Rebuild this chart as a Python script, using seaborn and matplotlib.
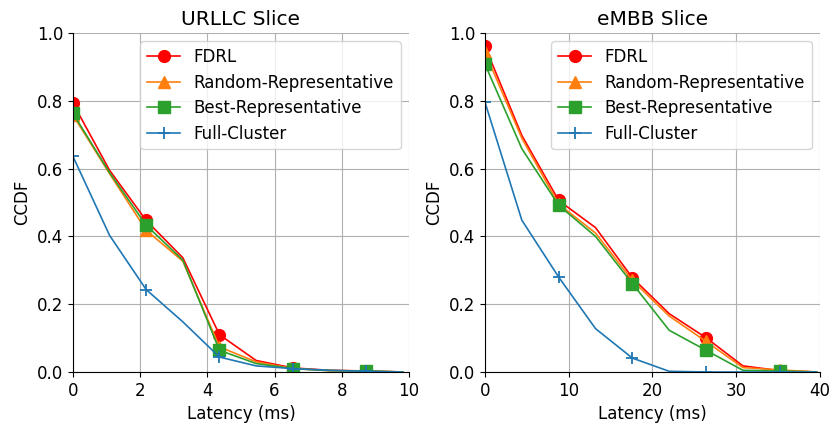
import matplotlib
matplotlib.use('Agg')
import matplotlib.pyplot as plt
import seaborn as sns

# URLLC slice (latency in ms)
urllc_latency = [0.0, 1.09, 2.18, 3.27, 4.36, 5.45, 6.54, 7.63, 8.72, 9.81]
urllc_fdrl = [0.793, 0.595, 0.447, 0.337, 0.110, 0.034, 0.012, 0.005, 0.003, 0.0]
urllc_random = [0.758, 0.585, 0.418, 0.327, 0.074, 0.030, 0.010, 0.004, 0.003, 0.0]
urllc_best = [0.763, 0.588, 0.433, 0.330, 0.064, 0.025, 0.010, 0.004, 0.003, 0.0]
urllc_full = [0.636, 0.403, 0.243, 0.148, 0.044, 0.018, 0.010, 0.005, 0.002, 0.0]

# eMBB slice
embb_latency = [0.0, 4.4, 8.8, 13.2, 17.6, 22.0, 26.4, 30.8, 35.2, 39.6]
embb_fdrl = [0.961, 0.698, 0.506, 0.426, 0.278, 0.172, 0.101, 0.018, 0.004, 0.0]
embb_random = [0.944, 0.690, 0.495, 0.410, 0.270, 0.165, 0.090, 0.013, 0.006, 0.0]
embb_best = [0.908, 0.659, 0.492, 0.400, 0.261, 0.123, 0.064, 0.005, 0.003, 0.0]
embb_full = [0.796, 0.448, 0.280, 0.128, 0.041, 0.002, 0.0, 0.0, 0.0, 0.0]

labels = ['FDRL', 'Random-Representative', 'Best-Representative', 'Full-Cluster']
colors = ['red', '#ff7f0e', '#2ca02c', '#1f77b4']
markers = ['o', '^', 's', '+']

fig = plt.figure(figsize=(8.31, 4.29), dpi=100)
ax1 = fig.add_axes([0.0878, 0.1329, 0.4043, 0.790])
ax2 = fig.add_axes([0.5836, 0.1329, 0.4031, 0.790])

panels = [
    (ax1, 'URLLC Slice', urllc_latency, [urllc_fdrl, urllc_random, urllc_best, urllc_full], 10),
    (ax2, 'eMBB Slice', embb_latency, [embb_fdrl, embb_random, embb_best, embb_full], 40),
]

for ax, title, xs, series, xmax in panels:
    for ys, lab, c, m in zip(series, labels, colors, markers):
        sns.lineplot(x=xs, y=ys, ax=ax, label=lab, color=c, marker=m,
                     markevery=2, markersize=9 if m == '+' else 8.5,
                     markeredgecolor=c, markeredgewidth=1.3 if m == '+' else 1,
                     linewidth=1.2, sort=False)
    ax.set_xlim(0, xmax)
    ax.set_ylim(0, 1.0)
    ax.set_title(title, fontsize=14.5)
    ax.set_xlabel('Latency (ms)', fontsize=12)
    ax.set_ylabel('CCDF', fontsize=12)
    ax.tick_params(labelsize=12)
    ax.grid(True, color='#b0b0b0', linewidth=0.8)
    ax.spines['top'].set_visible(False)
    ax.spines['right'].set_visible(False)
    ax.legend(loc='upper right', fontsize=12, labelspacing=0.45)

fig.savefig('out.png', dpi=100)
